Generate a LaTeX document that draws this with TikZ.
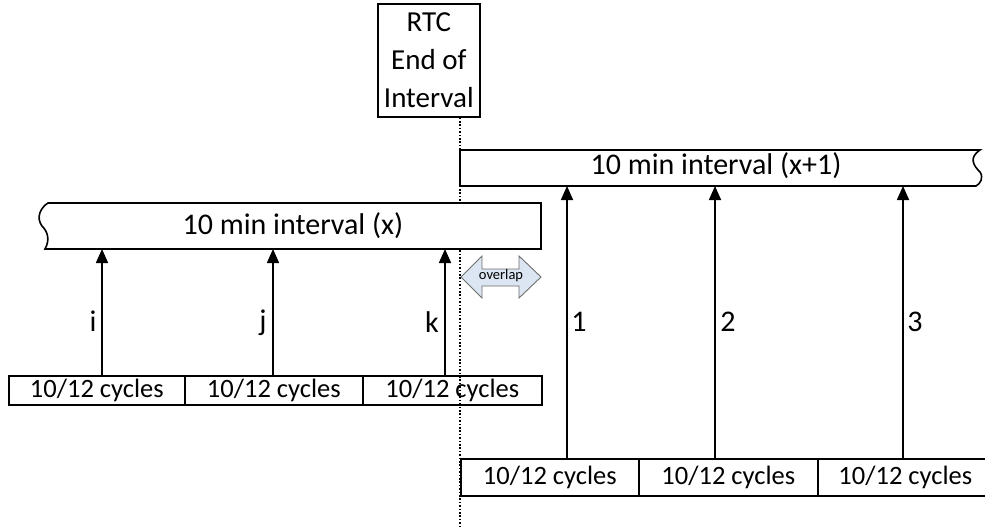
\documentclass[tikz,border=0pt]{standalone}
\usepackage{fontspec}
\setmainfont{Carlito}
\usetikzlibrary{arrows.meta}
\definecolor{ovfill}{RGB}{220,230,242}
\definecolor{ovdraw}{RGB}{110,110,110}
\begin{document}
\begin{tikzpicture}[x=1pt,y=-1pt,
  line/.style={draw=black,line width=1.6pt},
  cyc/.style={line,fill=white,minimum height=29pt,inner sep=0pt,anchor=north west,font=\fontsize{26.5}{28}\selectfont},
  bigtext/.style={font=\fontsize{30}{32}\selectfont},
  arr/.style={line,-{Triangle[length=14pt,width=12pt]}},
  lab/.style={font=\fontsize{30}{32}\selectfont,inner sep=0pt}
]
\useasboundingbox (0,0) rectangle (985,527);
% RTC box
\node[line,fill=white,minimum width=102pt,minimum height=113pt,inner sep=0pt,anchor=north west,
  align=center,font=\fontsize{29}{38}\selectfont] (rtc) at (377,3) {RTC\\End of\\Interval};
% dotted line
\coordinate (dotend) at (460,527);
\draw[line width=1.6pt,dash pattern=on 1.6pt off 1.8pt] (rtc.south -| dotend) -- (dotend);
% interval x+1 bar
\path[line,fill=white] (460,150) -- (980,150) .. controls (968,158) and (974,166) .. (980,172) .. controls (984,178) and (980,184) .. (976,186) -- (460,186) -- cycle;
\node[bigtext,inner sep=0pt] (ivb) at (716,166) {10 min interval (x+1)};
% interval x bar
\path[line,fill=white] (48,203) -- (541,203) -- (541,249) -- (45,249) .. controls (50,240) and (48,232) .. (42,226) .. controls (36,218) and (40,208) .. (48,203) -- cycle;
\node[bigtext,inner sep=0pt] (iva) at (293,226) {10 min interval (x)};
% overlap double arrow
\draw[draw=ovdraw,line width=0.9pt,fill=ovfill] (461,277) -- (482,256) -- (482,269) -- (519,269) -- (519,256) -- (541,277) -- (519,298) -- (519,286) -- (482,286) -- (482,298) -- cycle;
\node[font=\fontsize{14.5}{15}\selectfont,inner sep=0pt] (ov) at (501,276) {overlap};
% left cycles row
\node[cyc,minimum width=176pt] (c1) at (8,375) {10/12 cycles};
\node[cyc,minimum width=178pt] (c2) at (184,375) {10/12 cycles};
\node[cyc,minimum width=179pt,fill=none] (c3) at (362,375) {10/12 cycles};
% right cycles row
\node[cyc,minimum width=178pt,minimum height=37pt] (d1) at (460,458) {10/12 cycles};
\node[cyc,minimum width=179pt,minimum height=37pt] (d2) at (638,458) {10/12 cycles};
\node[cyc,minimum width=175pt,minimum height=37pt] (d3) at (817,458) {10/12 cycles};
% arrows left
\coordinate (a1) at (102,249); \coordinate (a2) at (273,249); \coordinate (a3) at (445,249);
\draw[arr] (c1.north -| a1) -- (a1);
\draw[arr] (c2.north -| a2) -- (a2);
\draw[arr] (c3.north -| a3) -- (a3);
% arrows right
\coordinate (b1) at (567,186); \coordinate (b2) at (715,186); \coordinate (b3) at (903,186);
\draw[arr] (d1.north -| b1) -- (b1);
\draw[arr] (d2.north -| b2) -- (b2);
\draw[arr] (d3.north -| b3) -- (b3);
% labels
\node[lab] (li) at (93,321) {i};
\node[lab] (lj) at (263,323) {j};
\node[lab] (lk) at (432,322) {k};
\node[lab] (l1) at (579,322) {1};
\node[lab] (l2) at (728,322) {2};
\node[lab] (l3) at (915,322) {3};
\end{tikzpicture}
\end{document}
